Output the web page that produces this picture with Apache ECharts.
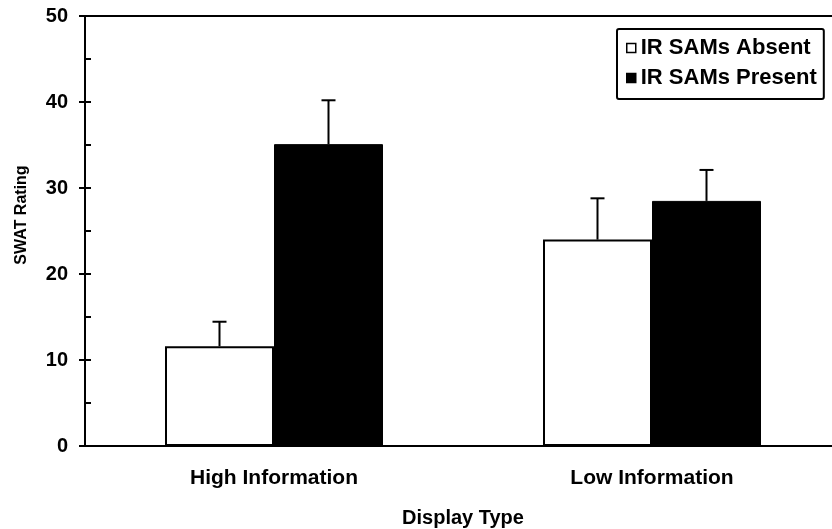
<!DOCTYPE html>
<html>
<head>
<meta charset="utf-8">
<script src="https://cdn.jsdelivr.net/npm/echarts@6/dist/echarts.min.js"></script>
<style>
html,body{margin:0;padding:0;background:#fff;overflow:hidden;width:832px;height:529px;}
#chart{width:841px;height:529px;}
</style>
</head>
<body>
<div id="chart"></div>
<script>
// ---- data ----
var categories = ['High Information', 'Low Information'];
var seriesNames = ['IR SAMs Absent', 'IR SAMs Present'];
var absentMeans = [11.6, 24.0];
var absentErr = [2.85, 4.8];
var presentMeans = [35.1, 28.5];
var presentErr = [5.1, 3.6];
var yTicks = [0, 10, 20, 30, 40, 50];

// ---- style ----
var FONT = '"Liberation Sans", Arial, sans-serif';
var BAR_W = 109;
var CAP = 14;

var chart = echarts.init(document.getElementById('chart'), null, {renderer: 'canvas'});

function errSeries(means, errs, offset) {
  return {
    type: 'custom',
    xAxisIndex: 0,
    yAxisIndex: 0,
    z: 5,
    data: means.map(function (m, i) { return [i, m, m + errs[i]]; }),
    renderItem: function (params, api) {
      var p0 = api.coord([api.value(0), api.value(1)]);
      var p1 = api.coord([api.value(0), api.value(2)]);
      var x = p0[0] + offset;
      return {
        type: 'group',
        children: [
          {type: 'line', shape: {x1: x, y1: p0[1], x2: x, y2: p1[1]}, style: {stroke: '#000', lineWidth: 2}},
          {type: 'line', shape: {x1: x - CAP / 2, y1: p1[1], x2: x + CAP / 2, y2: p1[1]}, style: {stroke: '#000', lineWidth: 2}}
        ]
      };
    }
  };
}

var option = {
  backgroundColor: '#fff',
  animation: false,
  textStyle: {fontFamily: FONT, color: '#000'},
  grid: {left: 85, top: 16, right: 0, bottom: 83, show: true, borderColor: '#000', borderWidth: 2, containLabel: false, outerBoundsMode: 'none'},
  legend: {
    orient: 'vertical',
    left: 617,
    top: 29,
    data: seriesNames,
    icon: 'rect',
    itemWidth: 9,
    itemHeight: 9,
    itemGap: 8,
    itemTextGap: 1,
    padding: [8, 7, 10, 9],
    borderColor: '#000',
    borderWidth: 2,
    borderRadius: 2,
    backgroundColor: '#fff',
    textStyle: {fontFamily: FONT, fontWeight: 'bold', fontSize: 22, color: '#000'},
    itemStyle: {borderColor: '#000', borderWidth: 1.5}
  },
  xAxis: {
    type: 'category',
    data: categories,
    axisLine: {lineStyle: {color: '#000', width: 2}},
    axisTick: {show: false},
    axisLabel: {margin: 22, fontFamily: FONT, fontWeight: 'bold', fontSize: 21, color: '#000'},
    name: 'Display Type',
    nameLocation: 'middle',
    nameGap: 62,
    nameTextStyle: {fontFamily: FONT, fontWeight: 'bold', fontSize: 20, color: '#000'},
    splitLine: {show: false}
  },
  yAxis: [
    {
      type: 'value',
      min: yTicks[0],
      max: yTicks[yTicks.length - 1],
      interval: yTicks[1] - yTicks[0],
      axisLine: {show: true, lineStyle: {color: '#000', width: 2}},
      axisTick: {show: true, inside: false, length: 6, lineStyle: {color: '#000', width: 2}},
      axisLabel: {margin: 17, fontFamily: FONT, fontWeight: 'bold', fontSize: 20, color: '#000'},
      splitLine: {show: false},
      name: 'SWAT Rating',
      nameLocation: 'middle',
      nameGap: 55,
      nameTextStyle: {fontFamily: FONT, fontWeight: 'bold', fontSize: 16, color: '#000', padding: [0, 0, 0, 32]}
    },
    {
      type: 'value',
      position: 'left',
      min: yTicks[0],
      max: yTicks[yTicks.length - 1],
      interval: (yTicks[1] - yTicks[0]) / 2,
      axisLine: {show: false},
      axisTick: {show: true, inside: true, length: 6, lineStyle: {color: '#000', width: 2}},
      axisLabel: {show: false},
      splitLine: {show: false}
    }
  ],
  series: [
    {
      name: seriesNames[0],
      type: 'bar',
      data: absentMeans,
      barWidth: BAR_W,
      barGap: '0%',
      itemStyle: {color: '#fff', borderColor: '#000', borderWidth: 2},
      z: 2
    },
    {
      name: seriesNames[1],
      type: 'bar',
      data: presentMeans,
      barWidth: BAR_W,
      barGap: '0%',
      itemStyle: {color: '#000', borderColor: '#000', borderWidth: 1},
      z: 2
    },
    errSeries(absentMeans, absentErr, -BAR_W / 2),
    errSeries(presentMeans, presentErr, BAR_W / 2)
  ]
};
chart.setOption(option);
</script>
</body>
</html>
